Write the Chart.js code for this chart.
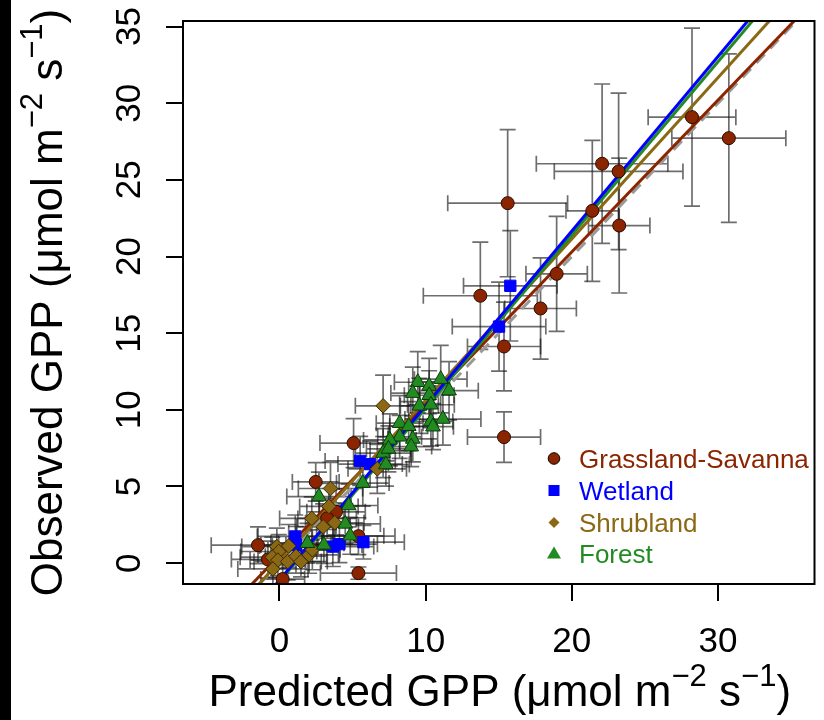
<!DOCTYPE html>
<html>
<head>
<meta charset="utf-8">
<script src="https://cdn.jsdelivr.net/npm/chart.js@4.4.1/dist/chart.umd.min.js"></script>
<style>
  html, body { margin: 0; padding: 0; background: #fff; }
  #wrap { position: relative; width: 824px; height: 720px; }
  #gpp { position: absolute; left: 0; top: 0; }
  #strip { position: absolute; left: 0; top: 0; width: 11px; height: 720px; background: #000; }
</style>
</head>
<body>
<div id="wrap">
  <canvas id="gpp" width="824" height="720"></canvas>
  <div id="strip"></div>
</div>
<script>
// Observed vs predicted GPP by biome
const xTicks = [0, 10, 20, 30];
const yTicks = [0, 5, 10, 15, 20, 25, 30, 35];

const grassX = [28.22, 30.74, 22.07, 23.20, 21.40, 23.24, 15.61, 18.96, 13.74, 17.86, 15.36, 15.36, 5.07, 2.48, -1.47, 5.40, 0.22, -0.79, 3.87, 3.26, 5.40];
const grassY = [29.09, 27.72, 26.05, 25.55, 22.98, 22.02, 23.48, 18.87, 17.44, 16.61, 14.13, 8.22, 7.83, 5.30, 1.17, -0.65, -1.04, 0.24, 3.35, 2.92, 1.76];
const grassXErr = [3.0, 3.9, 4.5, 4.4, 1.8, 2.1, 4.1, 2.1, 3.9, 2.45, 2.5, 2.5, 2.3, 1.6, 3.2, 2.6, 1.5, 2.5, 2.0, 2.0, 2.5];
const grassYErr = [5.8, 5.5, 5.2, 5.1, 4.6, 4.4, 4.8, 3.75, 3.5, 3.3, 2.9, 1.65, 1.6, 1.25, 1.2, 0.4, 1.0, 1.2, 1.5, 1.3, 1.2];

const wetX = [15.79, 15.02, 5.52, 6.20, 1.08, 1.13, 3.65, 4.10, 5.74];
const wetY = [18.09, 15.43, 6.67, 6.46, 1.74, 1.19, 1.08, 1.24, 1.37];
const wetXErr = [3.2, 3.2, 2.4, 2.2, 2.6, 2.4, 2.8, 2.6, 2.8];
const wetYErr = [3.6, 2.9, 1.6, 1.5, 1.4, 1.2, 1.3, 1.2, 1.1];

const shrubX = [7.09, 6.69, 3.49, 3.38, 2.21, 2.99, 3.78, -0.18, 0.63, -0.05, -0.49, -0.11, 0.56, 1.13, 1.47, 2.03, -0.45, 2.25];
const shrubY = [10.26, 6.15, 4.87, 3.70, 2.92, 2.37, 2.63, 1.08, 1.12, 0.76, 0.39, 0.20, 0.10, 0.45, 0.10, 0.54, -0.38, 0.87];
const shrubXErr = [1.9, 2.0, 2.2, 2.0, 2.2, 1.8, 2.0, 2.4, 2.0, 2.6, 2.2, 1.9, 2.3, 2.1, 1.8, 2.0, 2.4, 1.9];
const shrubYErr = [2.0, 1.6, 1.7, 1.5, 1.4, 1.5, 1.3, 1.2, 1.4, 1.1, 1.3, 1.0, 1.2, 1.1, 1.0, 1.2, 1.0, 1.3];

const forestX = [9.46, 10.24, 11.03, 11.60, 9.12, 10.24, 9.57, 10.36, 11.18, 10.36, 10.50, 8.22, 8.84, 8.22, 9.12, 7.55, 9.01, 7.09, 7.45, 7.28, 5.70, 4.73, 2.70, 4.50, 4.84, 1.91, 3.04];
const forestY = [11.80, 11.55, 12.00, 11.25, 11.09, 10.95, 10.26, 10.33, 9.40, 9.24, 8.90, 9.13, 8.93, 8.24, 8.10, 8.04, 7.60, 7.18, 7.45, 6.43, 5.22, 3.76, 4.34, 2.56, 1.78, 1.30, 1.19];
const forestXErr = [1.6, 1.4, 1.8, 2.0, 1.5, 1.7, 1.3, 1.6, 2.6, 1.5, 1.4, 1.6, 1.3, 1.5, 1.7, 1.8, 1.4, 1.9, 1.5, 1.6, 1.8, 2.0, 2.2, 2.4, 2.3, 2.5, 2.6];
const forestYErr = [2.0, 1.8, 2.2, 1.9, 1.7, 1.6, 1.8, 1.5, 1.7, 1.6, 1.5, 1.8, 1.6, 1.4, 1.5, 1.7, 1.3, 1.6, 1.5, 1.4, 1.5, 1.4, 1.6, 1.3, 1.2, 1.3, 1.2];

// fitted lines, end points where they meet the plot frame
const oneToOneX = [-1.36, 35.36];
const oneToOneY = [-1.36, 35.36];
const grassFitX = [-1.88, 35.21];
const grassFitY = [-1.36, 35.36];
const shrubFitX = [-1.40, 33.51];
const shrubFitY = [-1.36, 35.36];
const forestFitX = [-0.15, 32.35];
const forestFitY = [-1.36, 35.36];
const wetFitX = [-0.22, 32.03];
const wetFitY = [-1.36, 35.36];

const FONT = '"Liberation Sans", Arial, sans-serif';
const C_GRASS = '#8B2500';
const C_WET = '#0000FF';
const C_SHRUB = '#8B6914';
const C_FOREST = '#228B22';

const toPoints = (xs, ys) => xs.map((x, i) => ({ x: x, y: ys[i] }));

const groups = [
  { name: 'Grassland-Savanna', color: C_GRASS, x: grassX, y: grassY, xe: grassXErr, ye: grassYErr },
  { name: 'Wetland', color: C_WET, x: wetX, y: wetY, xe: wetXErr, ye: wetYErr },
  { name: 'Shrubland', color: C_SHRUB, x: shrubX, y: shrubY, xe: shrubXErr, ye: shrubYErr },
  { name: 'Forest', color: C_FOREST, x: forestX, y: forestY, xe: forestXErr, ye: forestYErr }
];

function fitLine(xs, ys, color, dash, order) {
  return {
    type: 'line',
    data: toPoints(xs, ys),
    borderColor: color,
    borderWidth: 3,
    borderDash: dash,
    pointRadius: 0,
    showLine: true,
    fill: false,
    order: order
  };
}

// draws "text" pieces with raised superscripts, centred on x
function drawRich(ctx, parts, x, y, size) {
  const supSize = Math.round(size * 0.7);
  let total = 0;
  parts.forEach(p => {
    ctx.font = (p.sup ? supSize : size) + 'px ' + FONT;
    total += ctx.measureText(p.t).width;
  });
  let cx = x - total / 2;
  ctx.textAlign = 'left';
  ctx.textBaseline = 'alphabetic';
  parts.forEach(p => {
    ctx.font = (p.sup ? supSize : size) + 'px ' + FONT;
    ctx.fillText(p.t, cx, p.sup ? y - size * 0.45 : y);
    cx += ctx.measureText(p.t).width;
  });
}

function titleParts(word) {
  return [
    { t: word + ' GPP (\u03BCmol m' },
    { t: '\u22122', sup: true },
    { t: ' s' },
    { t: '\u22121', sup: true },
    { t: ')' }
  ];
}

function drawMarker(ctx, kind, x, y, color) {
  ctx.beginPath();
  if (kind === 'circle') {
    ctx.arc(x, y, 5.8, 0, Math.PI * 2);
  } else if (kind === 'rect') {
    ctx.rect(x - 5.5, y - 5.5, 11, 11);
  } else if (kind === 'diamond') {
    ctx.moveTo(x, y - 5.5); ctx.lineTo(x + 5.5, y); ctx.lineTo(x, y + 5.5); ctx.lineTo(x - 5.5, y);
    ctx.closePath();
  } else {
    ctx.moveTo(x, y - 7); ctx.lineTo(x + 7, y + 5); ctx.lineTo(x - 7, y + 5);
    ctx.closePath();
  }
  ctx.fillStyle = color;
  ctx.fill();
  if (kind === 'circle') {
    ctx.strokeStyle = '#000';
    ctx.lineWidth = 1;
    ctx.stroke();
  }
}

const decorPlugin = {
  id: 'gppDecor',
  beforeDatasetsDraw(chart) {
    const ctx = chart.ctx;
    const xs = chart.scales.x, ys = chart.scales.y;
    const area = chart.chartArea;
    const cap = 8;
    ctx.save();
    ctx.beginPath();
    ctx.rect(area.left, area.top, area.right - area.left, area.bottom - area.top);
    ctx.clip();
    ctx.strokeStyle = 'rgba(20,20,20,0.62)';
    ctx.lineWidth = 1.7;
    groups.forEach(g => {
      g.x.forEach((xv, i) => {
        const px = xs.getPixelForValue(xv);
        const py = ys.getPixelForValue(g.y[i]);
        const x0 = xs.getPixelForValue(xv - g.xe[i]);
        const x1 = xs.getPixelForValue(xv + g.xe[i]);
        const y0 = ys.getPixelForValue(g.y[i] - g.ye[i]);
        const y1 = ys.getPixelForValue(g.y[i] + g.ye[i]);
        ctx.beginPath();
        ctx.moveTo(x0, py); ctx.lineTo(x1, py);
        ctx.moveTo(x0, py - cap); ctx.lineTo(x0, py + cap);
        ctx.moveTo(x1, py - cap); ctx.lineTo(x1, py + cap);
        ctx.moveTo(px, y0); ctx.lineTo(px, y1);
        ctx.moveTo(px - cap, y0); ctx.lineTo(px + cap, y0);
        ctx.moveTo(px - cap, y1); ctx.lineTo(px + cap, y1);
        ctx.stroke();
      });
    });
    ctx.restore();
  },
  afterDraw(chart) {
    const ctx = chart.ctx;
    const xs = chart.scales.x, ys = chart.scales.y;
    const area = chart.chartArea;
    ctx.save();
    // plot frame
    ctx.strokeStyle = '#000';
    ctx.lineWidth = 2;
    ctx.strokeRect(area.left, area.top, area.right - area.left, area.bottom - area.top);

    // tick labels
    ctx.fillStyle = '#000';
    ctx.font = '35px ' + FONT;
    ctx.textAlign = 'center';
    ctx.textBaseline = 'alphabetic';
    xTicks.forEach(v => ctx.fillText(String(v), xs.getPixelForValue(v), 652));
    yTicks.forEach(v => {
      ctx.save();
      ctx.translate(140, ys.getPixelForValue(v));
      ctx.rotate(-Math.PI / 2);
      ctx.fillText(String(v), 0, 0);
      ctx.restore();
    });

    // axis titles
    drawRich(ctx, titleParts('Predicted'), (area.left + area.right) / 2 + 1, 706, 44);
    ctx.save();
    ctx.translate(62, (area.top + area.bottom) / 2);
    ctx.rotate(-Math.PI / 2);
    drawRich(ctx, titleParts('Observed'), 0, 0, 44);
    ctx.restore();

    // legend inside the plot
    const kinds = ['circle', 'rect', 'diamond', 'triangle'];
    const baselines = [468, 500, 532, 563];
    groups.forEach((g, i) => {
      drawMarker(ctx, kinds[i], 554, baselines[i] - 9.5, g.color);
      ctx.font = '26px ' + FONT;
      ctx.textAlign = 'left';
      ctx.fillStyle = g.color;
      ctx.fillText(g.name, 579, baselines[i]);
    });
    ctx.restore();
  }
};

function scatterSet(g, style, radius, order, border) {
  return {
    type: 'scatter',
    label: g.name,
    data: toPoints(g.x, g.y),
    pointStyle: style,
    pointRadius: radius,
    pointHoverRadius: radius,
    backgroundColor: g.color,
    borderColor: border,
    borderWidth: 1,
    order: order
  };
}

new Chart(document.getElementById('gpp'), {
  type: 'scatter',
  data: {
    datasets: [
      fitLine(oneToOneX, oneToOneY, '#9a9a9a', [12, 8], 9),
      fitLine(grassFitX, grassFitY, C_GRASS, [], 8),
      fitLine(shrubFitX, shrubFitY, C_SHRUB, [], 7),
      fitLine(forestFitX, forestFitY, C_FOREST, [], 6),
      fitLine(wetFitX, wetFitY, C_WET, [], 5),
      scatterSet(groups[0], 'circle', 6.5, 4, '#2a0a00'),
      scatterSet(groups[1], 'rect', 8, 3, C_WET),
      scatterSet(groups[2], 'rectRot', 7.3, 2, '#3a2a05'),
      scatterSet(groups[3], 'triangle', 8.5, 1, '#0a3a0a')
    ]
  },
  options: {
    responsive: false,
    animation: false,
    events: [],
    layout: { padding: { left: 0, top: 21, right: 2, bottom: 0 } },
    plugins: { legend: { display: false }, tooltip: { enabled: false } },
    scales: {
      x: {
        type: 'linear',
        min: -6.6,
        max: 36.6,
        afterBuildTicks: s => { s.ticks = xTicks.map(v => ({ value: v })); },
        afterFit: s => { s.height = 136; },
        ticks: { display: false },
        border: { display: false },
        grid: { drawOnChartArea: false, drawTicks: true, tickLength: 17, color: '#000', lineWidth: 2 }
      },
      y: {
        type: 'linear',
        min: -1.36,
        max: 35.36,
        afterBuildTicks: s => { s.ticks = yTicks.map(v => ({ value: v })); },
        afterFit: s => { s.width = 183; },
        ticks: { display: false },
        border: { display: false },
        grid: { drawOnChartArea: false, drawTicks: true, tickLength: 17, color: '#000', lineWidth: 2 }
      }
    }
  },
  plugins: [decorPlugin]
});
</script>
</body>
</html>
